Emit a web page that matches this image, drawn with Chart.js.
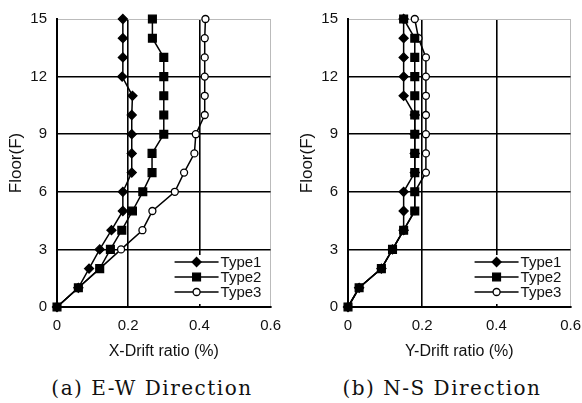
<!DOCTYPE html>
<html>
<head>
<meta charset="utf-8">
<script src="https://cdn.jsdelivr.net/npm/chart.js@4/dist/chart.umd.min.js"></script>
<style>
  html, body { margin: 0; padding: 0; background: #fff; overflow: hidden; }
  .panel { position: absolute; top: 0; height: 365px; }
  #panelA { left: 0; width: 291px; }
  #panelB { left: 291px; width: 300px; }
  .caption {
    position: absolute; top: 376px; transform: translateX(-50%);
    font-family: "DejaVu Serif", "Liberation Serif", serif; font-size: 20px;
    letter-spacing: 1.5px; color: #111; white-space: nowrap;
  }
</style>
</head>
<body>
<div class="panel" id="panelA"><canvas id="ewChart"></canvas></div>
<div class="panel" id="panelB"><canvas id="nsChart"></canvas></div>
<div class="caption" style="left:152px">(a) E-W Direction</div>
<div class="caption" style="left:442px">(b) N-S Direction</div>

<script>
// floors and drift ratios (%)
const floors = [0, 1, 2, 3, 4, 5, 6, 7, 8, 9, 10, 11, 12, 13, 14, 15];
const typeLabels = ["Type1", "Type2", "Type3"];

// (a) E-W direction
const ewType1 = [0, 0.06, 0.09, 0.12, 0.153, 0.185, 0.185, 0.21, 0.21, 0.21, 0.21, 0.212, 0.183, 0.185, 0.185, 0.185];
const ewType2 = [0, 0.06, 0.12, 0.15, 0.182, 0.212, 0.241, 0.267, 0.267, 0.30, 0.30, 0.30, 0.30, 0.30, 0.268, 0.268];
const ewType3 = [0, 0.06, 0.12, 0.18, 0.24, 0.268, 0.331, 0.357, 0.386, 0.39, 0.415, 0.415, 0.415, 0.415, 0.415, 0.417];

// (b) N-S direction
const nsType1 = [0, 0.03, 0.09, 0.12, 0.15, 0.15, 0.15, 0.18, 0.18, 0.18, 0.18, 0.15, 0.15, 0.15, 0.15, 0.15];
const nsType2 = [0, 0.03, 0.09, 0.12, 0.15, 0.18, 0.18, 0.18, 0.18, 0.18, 0.18, 0.18, 0.18, 0.18, 0.18, 0.15];
const nsType3 = [0, 0.03, 0.09, 0.12, 0.15, 0.18, 0.18, 0.21, 0.21, 0.21, 0.21, 0.21, 0.21, 0.21, 0.19, 0.18];

// ticks
const xTicks = [0, 0.2, 0.4, 0.6];
const xTickLabels = ["0", "0.2", "0.4", "0.6"];
const yTicks = [0, 3, 6, 9, 12, 15];
const yTickLabels = ["0", "3", "6", "9", "12", "15"];

const sansFont = "'Liberation Sans', Arial, sans-serif";

const markers = [
  { pointStyle: "rectRot", radius: 4.5, fill: "#000" },
  { pointStyle: "rect", radius: 5.5, fill: "#000" },
  { pointStyle: "circle", radius: 3.5, fill: "#fff" },
];

function toPoints(values) {
  return floors.map((f, i) => ({ x: values[i], y: f }));
}

function makeDatasets(series) {
  return series.map((values, i) => ({
    label: typeLabels[i],
    data: toPoints(values),
    showLine: true,
    borderColor: "#000",
    borderWidth: 1.5,
    pointStyle: markers[i].pointStyle,
    pointRadius: markers[i].radius,
    pointBackgroundColor: markers[i].fill,
    pointBorderColor: "#000",
    pointBorderWidth: 1.3,
    clip: false,
  }));
}

function drawMarker(ctx, m, x, y) {
  ctx.fillStyle = m.fill;
  ctx.strokeStyle = "#000";
  ctx.lineWidth = 1.3;
  ctx.beginPath();
  if (m.pointStyle === "rectRot") {
    ctx.moveTo(x, y - m.radius);
    ctx.lineTo(x + m.radius, y);
    ctx.lineTo(x, y + m.radius);
    ctx.lineTo(x - m.radius, y);
    ctx.closePath();
  } else if (m.pointStyle === "rect") {
    const s = m.radius * Math.SQRT1_2;
    ctx.rect(x - s, y - s, 2 * s, 2 * s);
  } else {
    ctx.arc(x, y, m.radius, 0, Math.PI * 2);
  }
  ctx.fill();
  ctx.stroke();
}

// legend inside the lower right corner, white box over the grid
const insetLegend = {
  id: "insetLegend",
  afterDatasetsDraw(chart) {
    const ctx = chart.ctx;
    const r = chart.chartArea.right;
    const b = chart.chartArea.bottom;
    ctx.save();
    ctx.fillStyle = "#fff";
    ctx.fillRect(r - 99, b - 52, 97, 49);
    ctx.font = "15px " + sansFont;
    ctx.textBaseline = "middle";
    chart.data.datasets.forEach((ds, i) => {
      const y = b - 45 + i * 15;
      ctx.strokeStyle = "#000";
      ctx.lineWidth = 1.5;
      ctx.beginPath();
      ctx.moveTo(r - 96, y);
      ctx.lineTo(r - 52, y);
      ctx.stroke();
      drawMarker(ctx, markers[i], r - 74, y);
      ctx.fillStyle = "#111";
      ctx.fillText(ds.label, r - 50, y + 1);
    });
    ctx.restore();
  },
};

function makeChart(id, series, xTitle, padRight) {
  const ctx = document.getElementById(id).getContext("2d");
  return new Chart(ctx, {
    type: "scatter",
    data: { datasets: makeDatasets(series) },
    plugins: [insetLegend],
    options: {
      responsive: true,
      maintainAspectRatio: false,
      animation: false,
      layout: { padding: { left: 0, right: padRight, top: 14, bottom: 0 } },
      plugins: {
        legend: { display: false },
        tooltip: { enabled: false },
      },
      scales: {
        x: {
          type: "linear",
          min: 0,
          max: 0.6,
          afterBuildTicks: (s) => {
            s.ticks = xTicks.map((v) => ({ value: v }));
          },
          afterFit: (s) => {
            s.height = 58;
          },
          ticks: {
            padding: 10,
            color: "#111",
            font: { family: sansFont, size: 15 },
            callback: (v, i) => xTickLabels[i],
          },
          grid: {
            drawTicks: false,
            color: (c) => (c.tick && c.tick.value >= 0.6 ? "#bbb" : "#000"),
            lineWidth: (c) => (c.tick && c.tick.value >= 0.6 ? 1 : 1.6),
          },
          border: { color: "#000", width: 2 },
          title: {
            display: true,
            text: xTitle,
            color: "#111",
            font: { family: sansFont, size: 16 },
            padding: { top: 0, bottom: 4 },
          },
        },
        y: {
          type: "linear",
          min: 0,
          max: 15,
          afterBuildTicks: (s) => {
            s.ticks = yTicks.map((v) => ({ value: v }));
          },
          afterFit: (s) => {
            s.width = 57;
          },
          ticks: {
            padding: 10,
            color: "#111",
            font: { family: sansFont, size: 15 },
            callback: (v, i) => yTickLabels[i],
          },
          grid: {
            drawTicks: false,
            color: (c) => (c.tick && c.tick.value >= 15 ? "#bbb" : "#000"),
            lineWidth: (c) => (c.tick && c.tick.value >= 15 ? 1 : 1.6),
          },
          border: { color: "#000", width: 2 },
          title: {
            display: true,
            text: "Floor(F)",
            color: "#111",
            font: { family: sansFont, size: 17 },
            padding: { top: 6, bottom: 0 },
          },
        },
      },
    },
  });
}

const ewChart = makeChart("ewChart", [ewType1, ewType2, ewType3], "X-Drift ratio (%)", 13);
const nsChart = makeChart("nsChart", [nsType1, nsType2, nsType3], "Y-Drift ratio (%)", 17);
</script>
</body>
</html>
